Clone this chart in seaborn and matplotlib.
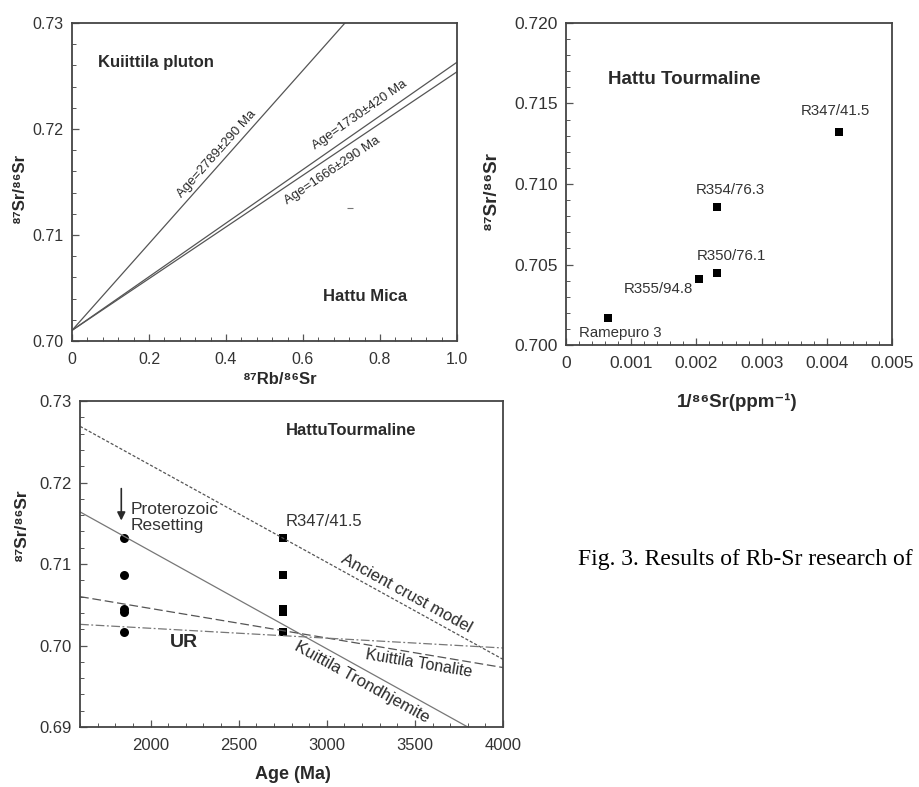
import numpy as np
import pandas as pd
import matplotlib
matplotlib.use("Agg")
import matplotlib.pyplot as plt
from matplotlib.ticker import FixedLocator, FixedFormatter, MultipleLocator
import seaborn as sns

# ---- data ----
# panel a: Rb-Sr isochrons, Hattu mica
iso_labels = ["Age=2789±290 Ma", "Age=1730±420 Ma", "Age=1666±290 Ma"]
iso_rbsr = [0.0, 1.0]
iso_sr_2789 = [0.7010, 0.7419]
iso_sr_1730 = [0.7010, 0.7263]
iso_sr_1666 = [0.7010, 0.7254]
mica_point_rbsr = [0.722]
mica_point_sr = [0.7125]

# panel b: Hattu tourmaline, 87Sr/86Sr vs 1/Sr
samples = ["Ramepuro 3", "R355/94.8", "R350/76.1", "R354/76.3", "R347/41.5"]
inv_sr = [0.00064, 0.00204, 0.00232, 0.00231, 0.00419]
sr_ratio = [0.7017, 0.7041, 0.7045, 0.7086, 0.7132]

# panel c: Sr evolution vs age
reset_age = [1850, 1850, 1850, 1850, 1850]
archean_age = [2750, 2750, 2750, 2750, 2750]
model_age = [1600, 4000]
crust_sr = [0.7269, 0.6983]
tonalite_sr = [0.7060, 0.6973]
ur_sr = [0.7026, 0.6997]
trond_age = [1600, 3800]
trond_sr = [0.7164, 0.6900]

# ticks
a_xticks = [0, 0.2, 0.4, 0.6, 0.8, 1.0]
a_xlabels = ["0", "0.2", "0.4", "0.6", "0.8", "1.0"]
a_yticks = [0.70, 0.71, 0.72, 0.73]
a_ylabels = ["0.70", "0.71", "0.72", "0.73"]
b_xticks = [0, 0.001, 0.002, 0.003, 0.004, 0.005]
b_xlabels = ["0", "0.001", "0.002", "0.003", "0.004", "0.005"]
b_yticks = [0.700, 0.705, 0.710, 0.715, 0.720]
b_ylabels = ["0.700", "0.705", "0.710", "0.715", "0.720"]
c_xticks = [2000, 2500, 3000, 3500, 4000]
c_xlabels = ["2000", "2500", "3000", "3500", "4000"]
c_yticks = [0.69, 0.70, 0.71, 0.72, 0.73]
c_ylabels = ["0.69", "0.70", "0.71", "0.72", "0.73"]

sns.set_style("ticks")
plt.rcParams["font.family"] = ["Liberation Sans", "DejaVu Sans"]
plt.rcParams["axes.edgecolor"] = "#444444"
plt.rcParams["axes.linewidth"] = 1.3

INK = "#2a2a2a"
LINE = "#555555"

fig = plt.figure(figsize=(9.19, 7.87), dpi=100)
ax1 = fig.add_axes([0.0783, 0.5667, 0.4190, 0.4041])
ax2 = fig.add_axes([0.6159, 0.5616, 0.3547, 0.4092])
ax3 = fig.add_axes([0.0871, 0.0762, 0.4603, 0.4142])


def style_axis(ax, xt, xl, yt, yl, xminor, yminor, size):
    ax.xaxis.set_major_locator(FixedLocator(xt))
    ax.xaxis.set_major_formatter(FixedFormatter(xl))
    ax.yaxis.set_major_locator(FixedLocator(yt))
    ax.yaxis.set_major_formatter(FixedFormatter(yl))
    ax.xaxis.set_minor_locator(MultipleLocator(xminor))
    ax.yaxis.set_minor_locator(MultipleLocator(yminor))
    ax.tick_params(which="both", direction="in", colors="#555555",
                   labelcolor="#333333", labelsize=size)
    ax.tick_params(which="major", length=5, width=0.9)
    ax.tick_params(which="minor", length=3, width=0.7)
    ax.tick_params(axis="y", pad=6)
    ax.tick_params(axis="x", pad=8)
    for s in ax.spines.values():
        s.set_visible(True)


def along(ax, text, x, y, p0, p1, size, weight="normal"):
    ang = np.degrees(np.arctan2(p1[1] - p0[1], p1[0] - p0[0]))
    ax.text(x, y, text, rotation=ang, transform_rotates_text=True,
            rotation_mode="anchor", ha="center", va="center",
            fontsize=size, color=INK, fontweight=weight)


# ---- panel a ----
for ys in [iso_sr_2789, iso_sr_1730, iso_sr_1666]:
    sns.lineplot(x=iso_rbsr, y=ys, ax=ax1, color=LINE, lw=0.9)
sns.scatterplot(x=mica_point_rbsr, y=mica_point_sr, ax=ax1, marker="_",
                s=20, color="#777777", linewidth=0.8)
ax1.set_xlim(0, 1.0)
ax1.set_ylim(0.70, 0.73)
style_axis(ax1, a_xticks, a_xlabels, a_yticks, a_ylabels, 0.04, 0.002, 11.5)
along(ax1, iso_labels[0], 0.377, 0.7176,
      (iso_rbsr[0], iso_sr_2789[0]), (iso_rbsr[1], iso_sr_2789[1]), 9.5)
along(ax1, iso_labels[1], 0.748, 0.7213,
      (iso_rbsr[0], iso_sr_1730[0]), (iso_rbsr[1], iso_sr_1730[1]), 9.5)
along(ax1, iso_labels[2], 0.675, 0.7161,
      (iso_rbsr[0], iso_sr_1666[0]), (iso_rbsr[1], iso_sr_1666[1]), 9.5)
ax1.text(0.068, 0.7263, "Kuiittila pluton", fontsize=12, fontweight="bold",
         color=INK, va="center")
ax1.text(0.652, 0.7042, "Hattu Mica", fontsize=12, fontweight="bold",
         color=INK, va="center")
ax1.set_xlabel("⁸⁷Rb/⁸⁶Sr", fontsize=12, fontweight="bold", color=INK)
ax1.set_ylabel("⁸⁷Sr/⁸⁶Sr", fontsize=12, fontweight="bold", color=INK)
ax1.xaxis.set_label_coords(0.54, -0.097)
ax1.yaxis.set_label_coords(-0.117, 0.48)

# ---- panel b ----
sns.scatterplot(x=inv_sr, y=sr_ratio, ax=ax2, marker="s", s=32,
                color="black", edgecolor="black", linewidth=0)
ax2.set_xlim(0, 0.005)
ax2.set_ylim(0.700, 0.720)
style_axis(ax2, b_xticks, b_xlabels, b_yticks, b_ylabels, 0.0002, 0.001, 12.5)
label_pos = [(0.00083, 0.70073), (0.00142, 0.70346), (0.00253, 0.70553),
             (0.00252, 0.70963), (0.00413, 0.71455)]
for name, (lx, ly) in zip(samples, label_pos):
    ax2.text(lx, ly, name, fontsize=10.8, color="#333333",
             ha="center", va="center")
ax2.text(0.00064, 0.71646, "Hattu Tourmaline", fontsize=13.5,
         fontweight="bold", color=INK, va="center")
ax2.set_xlabel("1/⁸⁶Sr(ppm⁻¹)", fontsize=13.5, fontweight="bold", color=INK)
ax2.set_ylabel("⁸⁷Sr/⁸⁶Sr", fontsize=13.5, fontweight="bold", color=INK)
ax2.xaxis.set_label_coords(0.525, -0.149)
ax2.yaxis.set_label_coords(-0.202, 0.48)

# ---- panel c ----
sns.lineplot(x=model_age, y=crust_sr, ax=ax3, color=LINE, lw=0.9,
             linestyle=(0, (2.5, 1.5)))
sns.lineplot(x=trond_age, y=trond_sr, ax=ax3, color="#777777", lw=0.9)
sns.lineplot(x=model_age, y=tonalite_sr, ax=ax3, color=LINE, lw=0.9,
             linestyle=(0, (7, 3)))
sns.lineplot(x=model_age, y=ur_sr, ax=ax3, color="#777777", lw=0.9,
             linestyle=(0, (7, 2, 1.5, 2)))
sns.scatterplot(x=reset_age, y=sr_ratio, ax=ax3, marker="o", s=42,
                color="black", edgecolor="black", linewidth=0)
sns.scatterplot(x=archean_age, y=sr_ratio, ax=ax3, marker="s", s=40,
                color="black", edgecolor="black", linewidth=0)
ax3.set_xlim(1600, 4000)
ax3.set_ylim(0.69, 0.73)
style_axis(ax3, c_xticks, c_xlabels, c_yticks, c_ylabels, 100, 0.002, 12)
ax3.annotate("", xy=(1834, 0.7150), xytext=(1834, 0.7196),
             arrowprops=dict(arrowstyle="-|>", color=INK, lw=1.2,
                             mutation_scale=12))
ax3.text(1885, 0.7157, "Proterozoic\nResetting", fontsize=12.5,
         color="#333333", va="center", linespacing=1.15)
ax3.text(2765, 0.72636, "HattuTourmaline", fontsize=12, fontweight="bold",
         color=INK, va="center")
ax3.text(2765, 0.71519, "R347/41.5", fontsize=12, color="#333333",
         va="center")
ax3.text(2187, 0.70039, "UR", fontsize=14, fontweight="bold", color=INK,
         ha="center", va="center")
along(ax3, "Ancient crust model", 3450, 0.70644,
      (model_age[0], crust_sr[0]), (model_age[1], crust_sr[1]), 12)
along(ax3, "Kuittila Tonalite", 3523, 0.69785,
      (model_age[0], tonalite_sr[0]), (model_age[1], tonalite_sr[1]), 11.5)
along(ax3, "Kuittila Trondhjemite", 3200, 0.69546,
      (trond_age[0], trond_sr[0]), (trond_age[1], trond_sr[1]), 12)
ax3.set_xlabel("Age (Ma)", fontsize=13, fontweight="bold", color=INK)
ax3.set_ylabel("⁸⁷Sr/⁸⁶Sr", fontsize=12.5, fontweight="bold", color=INK)
ax3.xaxis.set_label_coords(0.503, -0.12)
ax3.yaxis.set_label_coords(-0.12, 0.62)

# caption (sits at the right edge as in the source page)
fig.text(578 / 919, 1 - 560 / 787, "Fig. 3. Results of Rb-Sr research of",
         fontsize=17, family="Liberation Serif", color="black",
         va="center", ha="left")

fig.savefig("out.png", dpi=100)
